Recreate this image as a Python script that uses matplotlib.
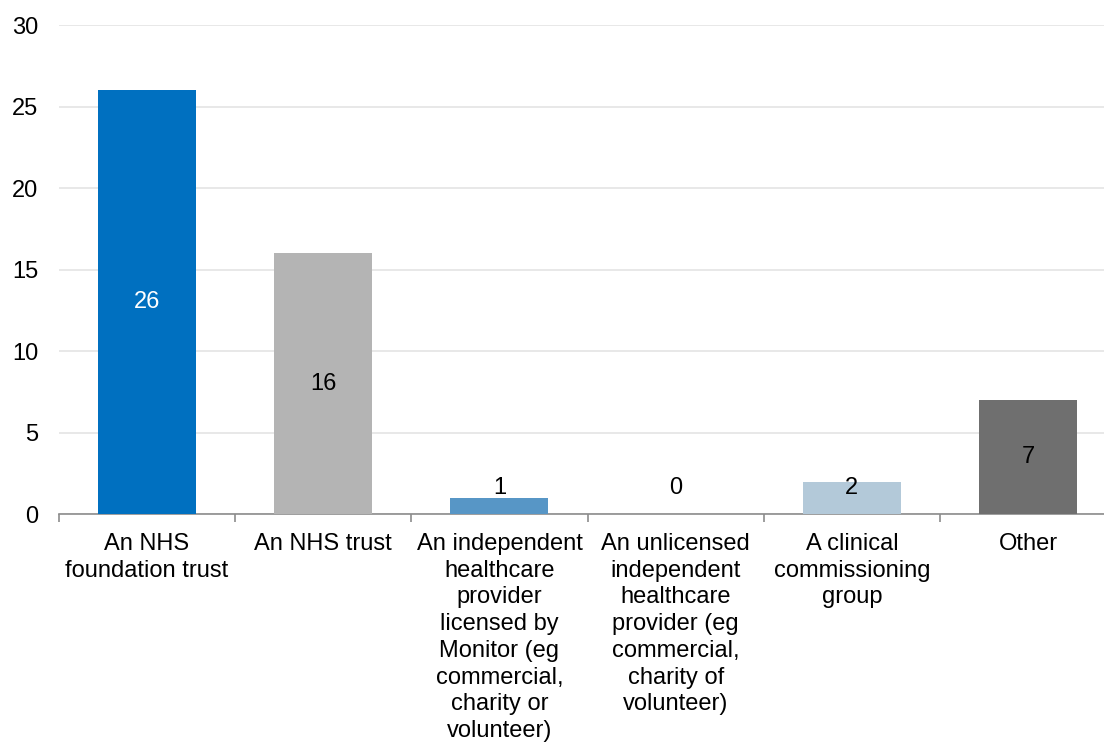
import matplotlib.pyplot as plt

plt.rcParams['font.family'] = ['Liberation Sans', 'DejaVu Sans']

categories = ['An NHS\nfoundation trust', 'An NHS trust',
              'An independent\nhealthcare\nprovider\nlicensed by\nMonitor (eg\ncommercial,\ncharity or\nvolunteer)',
              'An unlicensed\nindependent\nhealthcare\nprovider (eg\ncommercial,\ncharity of\nvolunteer)',
              'A clinical\ncommissioning\ngroup', 'Other']
values = [26, 16, 1, 0, 2, 7]
colors = ['#0070C0', '#B4B4B4', '#5796C6', '#FFFFFF', '#B3C9D9', '#6F6F6F']
label_colors = ['white', 'black', 'black', 'black', 'black', 'black']

fig = plt.figure(figsize=(11.04, 7.44), dpi=100)
ax = fig.add_axes([0.0534, 0.309, 0.9576, 0.657])

x = range(len(values))
ax.bar(x, values, width=0.556, color=colors, zorder=3)

# data labels
for i, v in enumerate(values):
    ypos = max(v / 2, 1.6)
    ax.text(i, ypos, str(v), ha='center', va='center', fontsize=17,
            color=label_colors[i], zorder=4)

ax.set_xlim(-0.5, len(values) - 0.5)
ax.set_ylim(0, 30)
ax.set_yticks(range(0, 31, 5))
ax.yaxis.grid(True, color='#E4E4E4', linewidth=1.2, zorder=0)
ax.tick_params(axis='y', length=0, labelsize=17, pad=15)

ax.set_xticks(x)
ax.set_xticklabels(categories, fontsize=17, va='top', linespacing=1.28)
ax.tick_params(axis='x', which='major', length=0, pad=13.5)
ax.set_xticks([i - 0.5 for i in range(len(values) + 1)], minor=True)
ax.tick_params(axis='x', which='minor', length=6, color='#8C8C8C', width=1.2)

for s in ['top', 'right', 'left']:
    ax.spines[s].set_visible(False)
ax.spines['bottom'].set_color('#8C8C8C')
ax.spines['bottom'].set_linewidth(1.2)

fig.savefig('out.png', dpi=100)
